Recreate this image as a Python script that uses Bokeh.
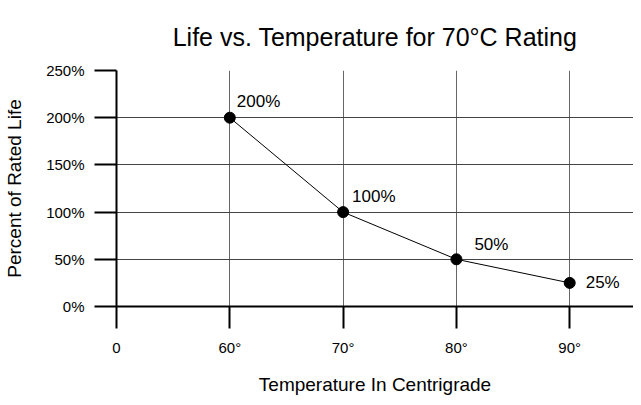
from bokeh.plotting import figure
from bokeh.models import Range1d, FixedTicker, ColumnDataSource
from bokeh.embed import file_html
from bokeh.resources import INLINE
from bokeh.core.properties import value

# Data
positions = [1, 2, 3, 4]
temps = ["60°", "70°", "80°", "90°"]
life = [200, 100, 50, 25]
life_labels = ["200%", "100%", "50%", "25%"]
x_tick_pos = [0, 1, 2, 3, 4, 5]
x_tick_labels = ["0", "60°", "70°", "80°", "90°", ""]
y_ticks = [0, 50, 100, 150, 200, 250]
y_tick_labels = ["0%", "50%", "100%", "150%", "200%", "250%"]

FONT = "Liberation Sans"

p = figure(width=633, height=397, output_backend="svg", toolbar_location=None,
           x_range=Range1d(0, 4.563), y_range=Range1d(0, 250),
           min_border_left=116, min_border_right=0, min_border_top=67, min_border_bottom=90,
           title="Life vs. Temperature for 70°C Rating")
p.outline_line_color = None
p.background_fill_color = "white"
p.border_fill_color = "white"

p.title.text_font = FONT
p.title.text_font_size = "25px"
p.title.text_font_style = "normal"
p.title.align = "center"
p.title.offset = -22
p.title.text_color = "black"
p.title.standoff = 40

# axes
p.xaxis.ticker = FixedTicker(ticks=x_tick_pos)
p.xaxis.major_label_overrides = {k: v for k, v in zip(x_tick_pos, x_tick_labels)}
p.yaxis.ticker = FixedTicker(ticks=y_ticks)
p.yaxis.major_label_overrides = {k: v for k, v in zip(y_ticks, y_tick_labels)}
for ax in (p.xaxis, p.yaxis):
    ax.axis_line_color = "black"
    ax.axis_line_width = 2
    ax.major_tick_line_color = "black"
    ax.major_tick_line_width = 2
    ax.major_tick_out = 22
    ax.major_tick_in = 0
    ax.minor_tick_line_color = None
    ax.major_label_text_font = FONT
    ax.major_label_text_font_size = "15px"
    ax.major_label_text_color = "black"
    ax.major_label_standoff = 10
    ax.axis_label_text_font = FONT
    ax.axis_label_text_font_size = "19px"
    ax.axis_label_text_font_style = "normal"
    ax.axis_label_text_color = "black"

p.xaxis.axis_label = "Temperature In Centrigrade"
p.xaxis.axis_label_standoff = 15
p.yaxis.axis_label = "Percent of Rated Life"
p.yaxis.axis_label_standoff = 18

p.xgrid.ticker = FixedTicker(ticks=x_tick_pos)
p.ygrid.ticker = FixedTicker(ticks=y_ticks)
p.xgrid.grid_line_color = "#666666"
p.ygrid.grid_line_color = "#444444"
p.xgrid.grid_line_width = 1
p.ygrid.grid_line_width = 1

src = ColumnDataSource(dict(x=positions, y=life, lab=life_labels, t=temps))
p.line("x", "y", source=src, line_color="black", line_width=1)
p.scatter("x", "y", source=src, size=11, fill_color="black", line_color="black")

# data labels (one glyph per label so each can carry its own pixel offset)
label_offsets = [(7, -16), (9, -16), (18, -15), (16, 0)]
for i, (dx, dy) in enumerate(label_offsets):
    s = ColumnDataSource(dict(x=[positions[i]], y=[life[i]], lab=[life_labels[i]]))
    p.text("x", "y", text="lab", source=s, x_offset=dx, y_offset=dy,
           text_align="left", text_baseline="middle", text_font=value(FONT),
           text_font_size="17px", text_color="black")

open("out.html", "w").write(file_html(p, INLINE))
